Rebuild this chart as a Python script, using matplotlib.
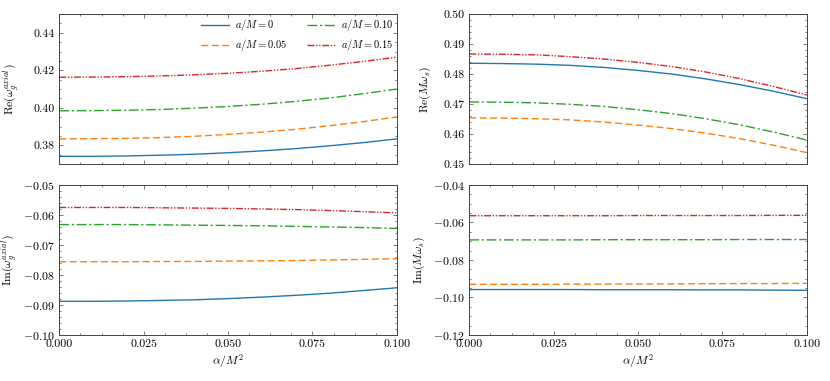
import matplotlib
matplotlib.use("Agg")
import matplotlib.pyplot as plt
from matplotlib.ticker import AutoMinorLocator, MultipleLocator, FormatStrFormatter, FuncFormatter

plt.rcParams.update({
    "font.family": "serif",
    "font.serif": ["cmr10", "DejaVu Serif"],
    "mathtext.fontset": "cm",
    "axes.formatter.use_mathtext": True,
    "font.size": 8.5,
    "axes.labelsize": 8.5,
    "axes.linewidth": 0.7,
    "axes.edgecolor": "#444444",
    "xtick.direction": "in",
    "ytick.direction": "in",
    "xtick.top": True,
    "ytick.right": True,
    "xtick.major.size": 3,
    "ytick.major.size": 3,
    "xtick.minor.size": 1.5,
    "ytick.minor.size": 1.5,
    "xtick.major.width": 0.5,
    "ytick.major.width": 0.5,
    "xtick.minor.width": 0.5,
    "ytick.minor.width": 0.5,
    "xtick.color": "#444444",
    "ytick.color": "#444444",
    "xtick.labelcolor": "black",
    "ytick.labelcolor": "black",
})

alpha = [0.0, 0.01, 0.02, 0.03, 0.04, 0.05, 0.06, 0.07, 0.08, 0.09, 0.10]
labels = [r"$a/M = 0$", r"$a/M = 0.05$", r"$a/M = 0.10$", r"$a/M = 0.15$"]

re_axial_a000 = [0.3741, 0.3741, 0.3743, 0.3747, 0.3752, 0.3760, 0.3770, 0.3782, 0.3797, 0.3814, 0.3834]
re_axial_a005 = [0.3834, 0.3835, 0.3837, 0.3841, 0.3848, 0.3858, 0.3870, 0.3885, 0.3904, 0.3926, 0.3951]
re_axial_a010 = [0.3984, 0.3985, 0.3987, 0.3991, 0.3998, 0.4007, 0.4019, 0.4034, 0.4052, 0.4075, 0.4100]
re_axial_a015 = [0.4163, 0.4164, 0.4166, 0.4170, 0.4176, 0.4184, 0.4195, 0.4209, 0.4227, 0.4247, 0.4270]

re_s_a000 = [0.4836, 0.4835, 0.4833, 0.4829, 0.4822, 0.4812, 0.4800, 0.4784, 0.4765, 0.4743, 0.4718]
re_s_a005 = [0.4654, 0.4653, 0.4651, 0.4647, 0.4640, 0.4630, 0.4618, 0.4603, 0.4585, 0.4563, 0.4538]
re_s_a010 = [0.4707, 0.4706, 0.4704, 0.4699, 0.4692, 0.4681, 0.4668, 0.4651, 0.4631, 0.4607, 0.4580]
re_s_a015 = [0.4867, 0.4866, 0.4864, 0.4858, 0.4850, 0.4839, 0.4825, 0.4807, 0.4785, 0.4759, 0.4730]

im_axial_a000 = [-0.0888, -0.0888, -0.0887, -0.0885, -0.0883, -0.0879, -0.0874, -0.0868, -0.0861, -0.0852, -0.0843]
im_axial_a005 = [-0.0756, -0.0756, -0.0756, -0.0755, -0.0755, -0.0754, -0.0753, -0.0752, -0.0750, -0.0748, -0.0746]
im_axial_a010 = [-0.0632, -0.0632, -0.0632, -0.0633, -0.0634, -0.0635, -0.0636, -0.0638, -0.0640, -0.0642, -0.0645]
im_axial_a015 = [-0.0575, -0.0575, -0.0575, -0.0576, -0.0577, -0.0578, -0.0580, -0.0582, -0.0585, -0.0589, -0.0593]

im_s_a000 = [-0.0958, -0.0958, -0.0958, -0.0958, -0.0959, -0.0959, -0.0959, -0.0960, -0.0960, -0.0961, -0.0962]
im_s_a005 = [-0.0930, -0.0930, -0.0930, -0.0929, -0.0929, -0.0928, -0.0928, -0.0927, -0.0926, -0.0926, -0.0925]
im_s_a010 = [-0.0693, -0.0693, -0.0693, -0.0693, -0.0692, -0.0692, -0.0692, -0.0692, -0.0691, -0.0691, -0.0691]
im_s_a015 = [-0.0564, -0.0564, -0.0564, -0.0564, -0.0564, -0.0563, -0.0563, -0.0563, -0.0563, -0.0562, -0.0562]

colors = ["#1f77b4", "#ff7f0e", "#2ca02c", "#d62728"]
styles = ["-", (0, (5, 2.5)), (0, (7, 2, 1.5, 2)), (0, (5, 1.2, 1, 1.2, 1, 1.2))]

fig, axes = plt.subplots(2, 2, figsize=(8.3, 3.81), dpi=100, sharex=True)
fig.subplots_adjust(left=0.0715, right=0.972, top=0.963, bottom=0.121, wspace=0.215, hspace=0.14)

neg_fmt = FuncFormatter(lambda v, p: "$-$%.2f" % abs(v) if v < 0 else "%.2f" % v)

panels = [
    (axes[0, 0], [re_axial_a000, re_axial_a005, re_axial_a010, re_axial_a015], (0.37, 0.45), 0.02,
     r"Re$(\omega_g^{axial})$", -0.11),
    (axes[0, 1], [re_s_a000, re_s_a005, re_s_a010, re_s_a015], (0.45, 0.50), 0.01,
     r"Re$(M\omega_s)$", -0.108),
    (axes[1, 0], [im_axial_a000, im_axial_a005, im_axial_a010, im_axial_a015], (-0.10, -0.05), 0.01,
     r"Im$(\omega_g^{axial})$", -0.118),
    (axes[1, 1], [im_s_a000, im_s_a005, im_s_a010, im_s_a015], (-0.12, -0.04), 0.02,
     r"Im$(M\omega_s)$", -0.125),
]

for ax, series, ylim, ystep, ylabel, lx in panels:
    for ys, c, ls, lab in zip(series, colors, styles, labels):
        ax.plot(alpha, ys, color=c, linestyle=ls, linewidth=1.0, label=lab)
    ax.set_xlim(0.0, 0.1)
    ax.set_ylim(*ylim)
    ax.yaxis.set_major_locator(MultipleLocator(ystep))
    ax.xaxis.set_major_locator(MultipleLocator(0.025))
    ax.xaxis.set_minor_locator(AutoMinorLocator(4))
    ax.yaxis.set_minor_locator(AutoMinorLocator())
    ax.set_ylabel(ylabel)
    ax.yaxis.set_label_coords(lx, 0.5)
    ax.xaxis.set_major_formatter(FormatStrFormatter("%.3f"))
    ax.yaxis.set_major_formatter(neg_fmt)

for ax in axes[1]:
    ax.set_xlabel(r"$\alpha/M^2$", labelpad=2)

axes[0, 0].legend(ncol=2, loc="upper right", frameon=False, fontsize=7.5,
                  handlelength=2.7, columnspacing=1.9, borderaxespad=0.0,
                  borderpad=0.3, handletextpad=0.55, labelspacing=0.4)

fig.savefig("out.png", dpi=100)
